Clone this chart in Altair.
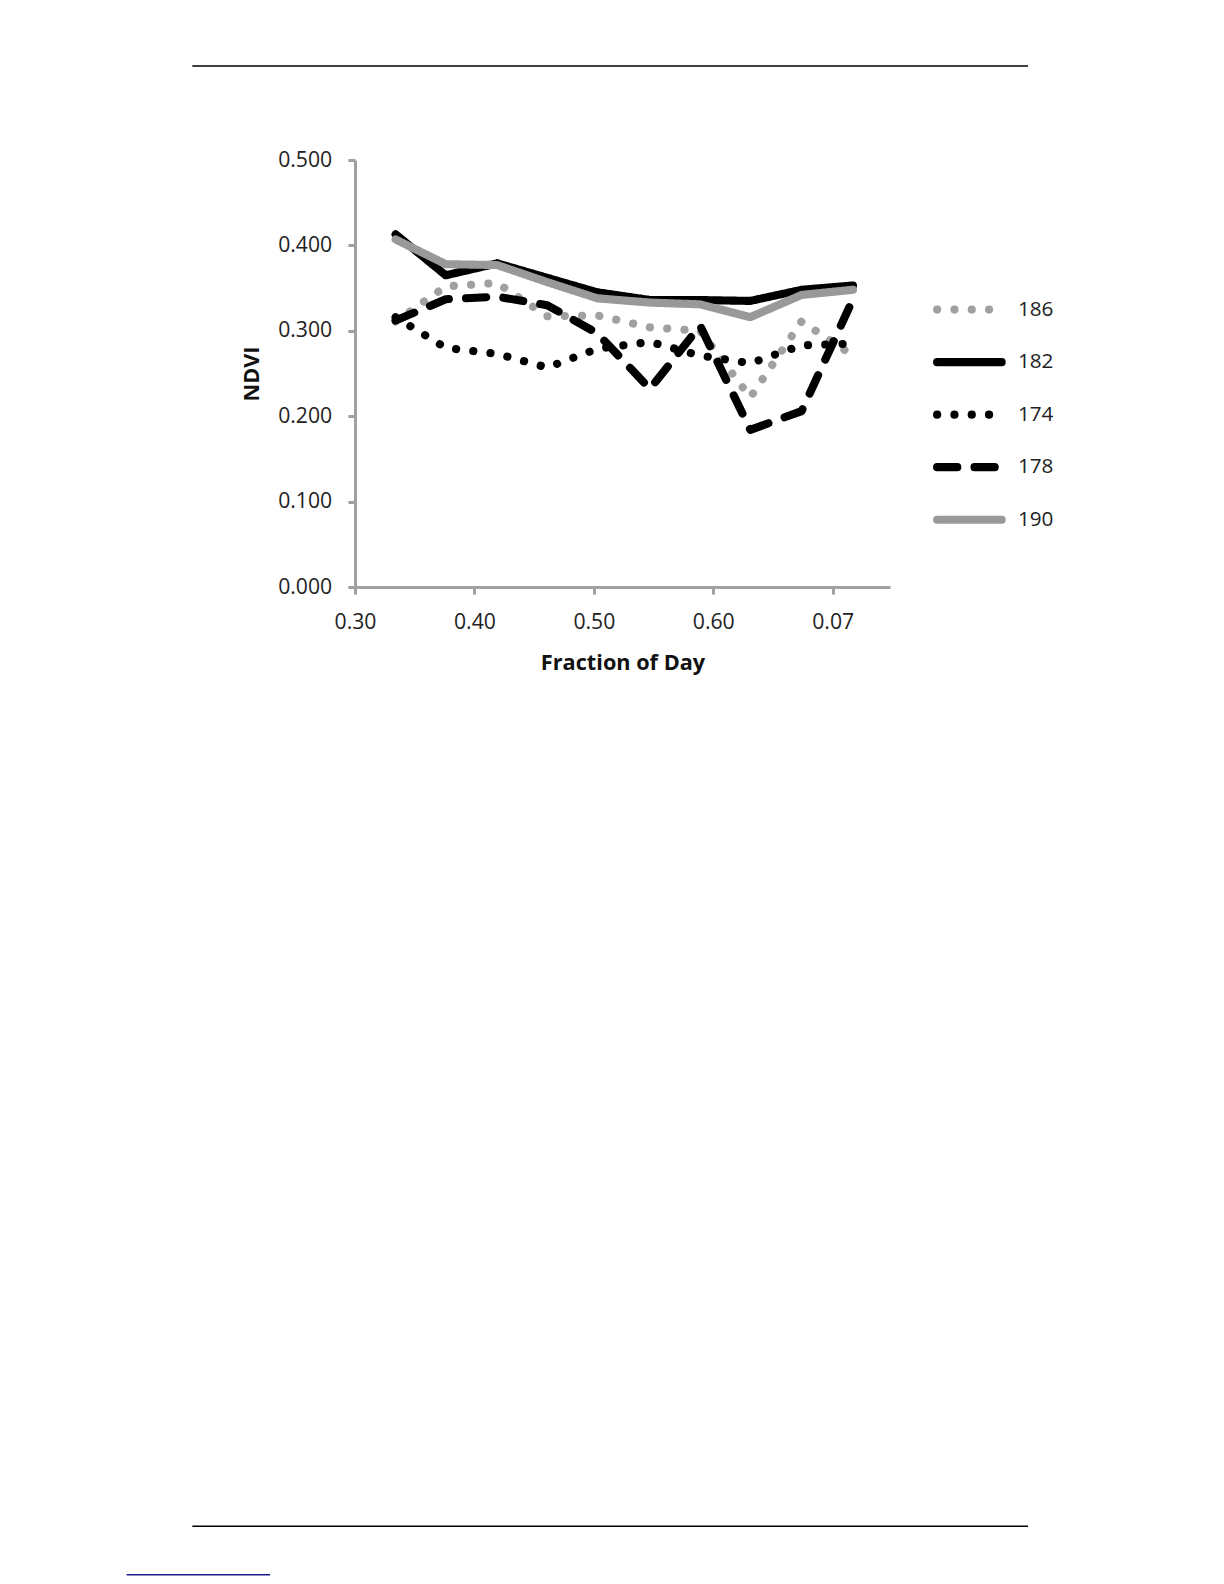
import altair as alt
import pandas as pd

# ---- data ----
fraction_of_day = [0.334, 0.376, 0.419, 0.461, 0.503, 0.547, 0.589, 0.631, 0.674, 0.717]
ndvi_174 = [0.316, 0.280, 0.273, 0.257, 0.279, 0.287, 0.271, 0.262, 0.283, 0.285]
ndvi_178 = [0.312, 0.337, 0.340, 0.330, 0.297, 0.232, 0.306, 0.184, 0.206, 0.337]
ndvi_182 = [0.413, 0.365, 0.379, 0.362, 0.345, 0.336, 0.336, 0.335, 0.348, 0.353]
ndvi_186 = [0.311, 0.352, 0.356, 0.317, 0.318, 0.304, 0.300, 0.222, 0.311, 0.271]
ndvi_190 = [0.407, 0.378, 0.377, 0.357, 0.338, 0.333, 0.331, 0.316, 0.342, 0.348]

legend_order = ["186", "182", "174", "178", "190"]
draw_order = ["186", "174", "178", "182", "190"]
x_ticks = [0.3, 0.4, 0.5, 0.6, 0.7]
y_ticks = [0.0, 0.1, 0.2, 0.3, 0.4, 0.5]

series_values = {"174": ndvi_174, "178": ndvi_178, "182": ndvi_182,
                 "186": ndvi_186, "190": ndvi_190}

rows = []
for s in draw_order:
    for i, (x, y) in enumerate(zip(fraction_of_day, series_values[s])):
        rows.append({"series": s, "x": x, "ndvi": y, "idx": i})
df = pd.DataFrame(rows)
legend_df = pd.DataFrame({"series": legend_order})

# ---- layout (the photographed page comes out ~1% smaller, compensate) ----
K = 1.0 / 0.9896


def px(v):
    return round(v * K, 1)


FONT = "Open Sans"
AXIS_GRAY = "#a0a0a0"
color_scale = alt.Scale(domain=legend_order,
                        range=["#a0a0a0", "#000000", "#000000", "#000000", "#999999"])
dash_scale = alt.Scale(domain=legend_order,
                       range=[[0.1, px(17)], [1, 0], [0.1, px(17)], [px(20), px(17)], [1, 0]])
width_scale = alt.Scale(domain=legend_order, range=[px(8), px(8), px(9), px(9), px(9)])

lines = alt.Chart(df).mark_line(strokeCap="round", strokeJoin="round").encode(
    x=alt.X("x:Q",
            scale=alt.Scale(domain=[0.3, 0.748], nice=False, zero=False),
            axis=alt.Axis(values=x_ticks,
                          labelExpr="abs(datum.value - 0.7) < 0.001 ? '0.07' : format(datum.value, '.2f')",
                          labelFlush=False,
                          title="Fraction of Day", grid=False)),
    y=alt.Y("ndvi:Q",
            scale=alt.Scale(domain=[0, 0.5], nice=False),
            axis=alt.Axis(values=y_ticks, format=".3f", title="NDVI", grid=False,
                          labelFlush=False)),
    color=alt.Color("series:N", scale=color_scale, legend=None),
    strokeDash=alt.StrokeDash("series:N", scale=dash_scale, legend=None),
    strokeWidth=alt.StrokeWidth("series:N", scale=width_scale, legend=None),
    detail="series:N",
    order="idx:Q",
)

legend_y = alt.Y("series:N",
                 scale=alt.Scale(type="point", domain=legend_order,
                                 range=[px(148), px(356)], padding=0),
                 axis=None)

legend_symbols = alt.Chart(legend_df).mark_rule(strokeCap="round").encode(
    y=legend_y,
    x=alt.value(px(576)),
    x2=alt.value(px(640)),
    color=alt.Color("series:N", scale=color_scale, legend=None),
    strokeDash=alt.StrokeDash("series:N", scale=dash_scale, legend=None),
    strokeWidth=alt.StrokeWidth("series:N", scale=width_scale, legend=None),
)

legend_labels = alt.Chart(legend_df).mark_text(
    align="left", baseline="middle", font=FONT, fontSize=px(20.5), color="#222222"
).encode(
    y=legend_y,
    x=alt.value(px(656)),
    text="series:N",
)

one = pd.DataFrame({"a": [0]})
top_rule = alt.Chart(one).mark_rule(color="#000000", strokeWidth=1.5).encode(
    x=alt.value(px(-161)), x2=alt.value(px(666)), y=alt.value(px(-93)))
bottom_rule = alt.Chart(one).mark_rule(color="#000000", strokeWidth=1.5).encode(
    x=alt.value(px(-161)), x2=alt.value(px(666)), y=alt.value(px(1352)))
blue_rule = alt.Chart(one).mark_rule(color="#1c1c8f", strokeWidth=1.5).encode(
    x=alt.value(px(-226)), x2=alt.value(px(-84)), y=alt.value(px(1400)))

pad_left = round(351 * K - 8)
pad_top = round(158 * K - 8)
plot_w = round(529 * K)
plot_h = round(423 * K)
pad_bottom = round(1560 * K - 8) - pad_top - plot_h

chart = alt.layer(
    lines, legend_symbols, legend_labels, top_rule, bottom_rule, blue_rule
).resolve_scale(
    y="independent"
).properties(
    width=plot_w,
    height=plot_h,
    padding={"left": pad_left, "top": pad_top, "right": 190, "bottom": pad_bottom},
    autosize=alt.AutoSizeParams(type="none"),
    background="white",
).configure_view(
    strokeWidth=0
).configure_axis(
    domainColor=AXIS_GRAY,
    domainWidth=3,
    tickColor=AXIS_GRAY,
    tickWidth=3,
    tickSize=px(7),
    labelFont=FONT,
    labelFontSize=px(21),
    labelColor="#222222",
    titleFont=FONT,
    titleFontSize=px(21.5),
    titleFontWeight="bold",
    titleColor="#111111",
).configure_axisX(
    labelPadding=px(17),
    titlePadding=px(20),
).configure_axisY(
    labelPadding=px(16),
    titlePadding=px(14),
)

chart.save("out.html", embed_options={"renderer": "svg", "actions": False})
